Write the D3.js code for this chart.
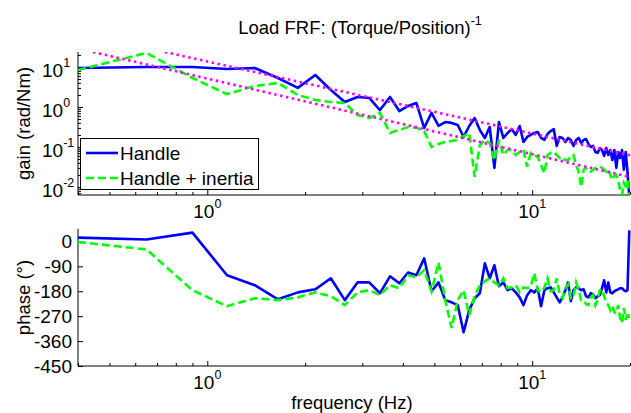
<!DOCTYPE html>
<html>
<head>
<meta charset="utf-8">
<script src="https://cdn.jsdelivr.net/npm/d3@7"></script>
<style>
body { margin: 0; background: #fff; }
text { font-family: "Liberation Sans", Arial, sans-serif; fill: #000; }
</style>
</head>
<body>
<svg id="chart" width="631" height="413"></svg>
<script>
// DATA ////////////////////////////////////////
var freq = [0.4, 0.65, 0.9, 1.15, 1.4, 1.65, 1.9, 2.15, 2.4, 2.65,
  2.9, 3.15, 3.4, 3.65, 3.9, 4.15, 4.4, 4.65, 4.9, 5.15,
  5.4, 5.65, 5.9, 6.15, 6.4, 6.65, 6.9, 7.15, 7.4, 7.65,
  7.9, 8.15, 8.4, 8.65, 8.9, 9.15, 9.4, 9.65, 9.9, 10.15,
  10.4, 10.65, 10.9, 11.15, 11.4, 11.65, 11.9, 12.15, 12.4, 12.65,
  12.9, 13.15, 13.4, 13.65, 13.9, 14.15, 14.4, 14.65, 14.9, 15.15,
  15.4, 15.65, 15.9, 16.15, 16.4, 16.65, 16.9, 17.15, 17.4, 17.65,
  17.9, 18.15, 18.4, 18.65, 18.9, 19.15, 19.4, 19.65, 19.9];

// gain (rad/Nm)
var gainHandle = [9.4, 10, 10, 8.9, 9.4, 5.3, 3.0, 6.3, 2.66, 1.33,
  1.78, 1.68, 0.84, 1.78, 0.79, 1.06, 1.26, 0.30, 0.71, 0.335,
  0.42, 0.40, 0.355, 0.178, 0.335, 0.53, 0.266, 0.168, 0.316, 0.030,
  0.42, 0.168, 0.224, 0.28, 0.20, 0.335, 0.133, 0.178, 0.20, 0.224,
  0.237, 0.168, 0.15, 0.211, 0.25, 0.28, 0.106, 0.178, 0.168, 0.133,
  0.168, 0.15, 0.106, 0.15, 0.168, 0.126, 0.15, 0.158, 0.119, 0.10,
  0.106, 0.075, 0.071, 0.094, 0.084, 0.060, 0.094, 0.063, 0.084, 0.047,
  0.084, 0.030, 0.075, 0.053, 0.084, 0.027, 0.075, 0.024, 0.0056];
var gainInertia = [8.4, 22.4, 5.3, 2.1, 3.35, 3.98, 2.0, 1.5, 1.33, 1.26,
  0.63, 0.53, 0.71, 0.224, 0.266, 0.316, 0.30, 0.25, 0.10, 0.119,
  0.133, 0.141, 0.15, 0.188, 0.224, 0.018, 0.112, 0.15, 0.126, 0.047,
  0.15, 0.063, 0.084, 0.084, 0.063, 0.075, 0.084, 0.032, 0.071, 0.063,
  0.056, 0.035, 0.022, 0.063, 0.071, 0.075, 0.063, 0.053, 0.056, 0.047,
  0.047, 0.060, 0.063, 0.035, 0.024, 0.010, 0.027, 0.030, 0.024, 0.024,
  0.027, 0.030, 0.032, 0.032, 0.030, 0.027, 0.024, 0.027, 0.020, 0.015,
  0.019, 0.020, 0.015, 0.0084, 0.0063, 0.0126, 0.0106, 0.015, 0.0047];

// phase (deg)
var phaseHandle = [14, 7, 32, -122, -158, -209, -184, -173, -133, -212,
  -148, -148, -187, -126, -151, -112, -122, -61, -180, -148,
  -212, -220, -230, -328, -248, -205, -187, -79, -133, -86,
  -162, -148, -176, -169, -184, -202, -230, -194, -176, -184,
  -169, -234, -176, -169, -166, -184, -202, -220, -202, -176,
  -148, -216, -176, -166, -169, -176, -173, -198, -202, -187,
  -191, -205, -198, -194, -169, -140, -184, -148, -184, -187,
  -180, -176, -173, -169, -169, -176, -180, -176, 40];
var phaseInertia = [-2, -29, -176, -234, -205, -212, -202, -184, -198, -230,
  -184, -176, -194, -158, -169, -122, -130, -104, -180, -76,
  -212, -313, -212, -176, -266, -198, -158, -144, -133, -148,
  -158, -133, -169, -166, -158, -184, -166, -169, -162, -115,
  -176, -184, -166, -133, -180, -176, -133, -191, -205, -169,
  -155, -205, -198, -148, -176, -212, -212, -227, -230, -202,
  -194, -230, -212, -176, -173, -198, -220, -230, -248, -234,
  -256, -259, -230, -277, -295, -241, -284, -256, -277];

// dotted reference slopes (end points)
var refUpperF = [0.74, 20];
var refUpperG = [23.7, 0.062];
var refLowerF = [0.445, 20];
var refLowerG = [23.7, 0.0178];

var phaseTicks = [0, -90, -180, -270, -360, -450];
var gainMajor = [0.01, 0.1, 1, 10];
var gainExp = ["-2", "-1", "0", "1"];
var freqMajor = [1, 10];
var freqExp = ["0", "1"];
var legendNames = ["Handle", "Handle + inertia"];

// LAYOUT //////////////////////////////////////
var left = 78, right = 630;
var gTop = 52, gBot = 195;
var pTop = 229, pBot = 366;
var fs = "19px"; // tick + legend font

var svg = d3.select("#chart");

var x = d3.scaleLog().domain([0.4, 20]).range([left, right]);
var yGain = d3.scaleLog().domain([0.0063, 23.7]).range([gBot, gTop]);
var yPhase = d3.scaleLinear().domain([-450, 45]).range([pBot, pTop]);

var defs = svg.append("defs");
defs.append("clipPath").attr("id", "clipG")
  .append("rect").attr("x", left).attr("y", gTop).attr("width", right - left + 2).attr("height", gBot - gTop);
defs.append("clipPath").attr("id", "clipP")
  .append("rect").attr("x", left).attr("y", pTop).attr("width", right - left + 2).attr("height", pBot - pTop);

var blue = "#0000ff", green = "#00ff00", magenta = "#ff00ff";

//AXES//////////////////////////////////////////
function xAxis(yPos) {
  var g = svg.append("g").attr("transform", "translate(0," + yPos + ")");
  g.call(d3.axisBottom(x).tickValues(x.ticks().filter(function (d) { return freqMajor.indexOf(d) < 0; }))
    .tickSizeInner(-3).tickSizeOuter(0).tickFormat(""));
  g.select(".domain").remove();
  var g2 = svg.append("g").attr("transform", "translate(0," + yPos + ")");
  g2.call(d3.axisBottom(x).tickValues(freqMajor).tickSizeInner(-5).tickSizeOuter(0).tickFormat(""));
  g2.select(".domain").remove();
  svg.append("line").attr("x1", left).attr("x2", right).attr("y1", yPos).attr("y2", yPos)
    .attr("stroke", "#000").attr("stroke-width", 1);
  freqMajor.forEach(function (d, i) {
    var t = svg.append("text").attr("x", x(d)).attr("y", yPos + 23)
      .attr("text-anchor", "middle").style("font-size", fs);
    t.append("tspan").text("10");
    t.append("tspan").attr("dy", -10).style("font-size", "12.5px").text(freqExp[i]);
  });
}
xAxis(gBot);
xAxis(pBot);

// gain y axis
var gy = svg.append("g").attr("transform", "translate(" + left + ",0)");
gy.call(d3.axisLeft(yGain).tickValues(yGain.ticks().filter(function (d) { return gainMajor.indexOf(d) < 0; }))
  .tickSizeInner(-3).tickSizeOuter(0).tickFormat(""));
gy.select(".domain").attr("d", "M0," + gTop + "V" + gBot);
var gy2 = svg.append("g").attr("transform", "translate(" + left + ",0)");
gy2.call(d3.axisLeft(yGain).tickValues(gainMajor).tickSizeInner(-5).tickSizeOuter(0).tickFormat(""));
gy2.select(".domain").remove();
gainMajor.forEach(function (d, i) {
  var t = svg.append("text").attr("x", 42).attr("y", yGain(d) + 10).style("font-size", fs);
  t.append("tspan").text("10");
  t.append("tspan").attr("dy", -10).style("font-size", "12.5px").text(gainExp[i]);
});

// phase y axis
var py = svg.append("g").attr("transform", "translate(" + left + ",0)");
py.call(d3.axisLeft(yPhase).tickValues(phaseTicks).tickSizeInner(-5).tickSizeOuter(0).tickFormat(""));
py.select(".domain").attr("d", "M0," + pTop + "V" + pBot);
phaseTicks.forEach(function (d) {
  svg.append("text").attr("x", 72).attr("y", yPhase(d) + 7)
    .attr("text-anchor", "end").style("font-size", fs).text(d);
});
svg.selectAll(".tick line").attr("stroke", "#000");
svg.selectAll(".domain").attr("stroke", "#000");

//LINES/////////////////////////////////////////
var gainLine = d3.line().x(function (d, i) { return x(freq[i]); }).y(function (d) { return yGain(d); });
var phaseLine = d3.line().x(function (d, i) { return x(freq[i]); }).y(function (d) { return yPhase(d); });

var gPlot = svg.append("g").attr("clip-path", "url(#clipG)");
gPlot.append("path").attr("d", gainLine(gainHandle)).attr("fill", "none")
  .attr("stroke", blue).attr("stroke-width", 2.6).attr("stroke-linejoin", "round");
gPlot.append("path").attr("d", gainLine(gainInertia)).attr("fill", "none")
  .attr("stroke", green).attr("stroke-width", 2.6).attr("stroke-dasharray", "8,4");

var refLine = d3.line().x(function (d) { return x(d[0]); }).y(function (d) { return yGain(d[1]); });
[[refUpperF, refUpperG], [refLowerF, refLowerG]].forEach(function (r) {
  gPlot.append("path").attr("d", refLine(d3.zip(r[0], r[1]))).attr("fill", "none")
    .attr("stroke", magenta).attr("stroke-width", 2.6).attr("stroke-dasharray", "2.5,3.5");
});

var pPlot = svg.append("g").attr("clip-path", "url(#clipP)");
pPlot.append("path").attr("d", phaseLine(phaseHandle)).attr("fill", "none")
  .attr("stroke", blue).attr("stroke-width", 2.6).attr("stroke-linejoin", "round");
pPlot.append("path").attr("d", phaseLine(phaseInertia)).attr("fill", "none")
  .attr("stroke", green).attr("stroke-width", 2.6).attr("stroke-dasharray", "8,4");

//LEGEND////////////////////////////////////////
var lg = svg.append("g");
lg.append("rect").attr("x", 80.5).attr("y", 138.5).attr("width", 178).attr("height", 51)
  .attr("fill", "#fff").attr("stroke", "#000").attr("stroke-width", 1);
[[blue, null], [green, "8,4"]].forEach(function (s, i) {
  var yy = 153 + i * 25;
  lg.append("line").attr("x1", 86).attr("x2", 118).attr("y1", yy).attr("y2", yy)
    .attr("stroke", s[0]).attr("stroke-width", 2.6).attr("stroke-dasharray", s[1]);
  lg.append("text").attr("x", 120).attr("y", yy + 7).style("font-size", fs).text(legendNames[i]);
});

//TITLES////////////////////////////////////////
var title = svg.append("text").attr("x", 360).attr("y", 34).attr("text-anchor", "middle").style("font-size", "18.5px");
title.append("tspan").text("Load FRF: (Torque/Position)");
title.append("tspan").attr("dy", -9).style("font-size", "12.5px").text("-1");

svg.append("text").attr("transform", "translate(30," + (gTop + gBot) / 2 + ") rotate(-90)")
  .attr("text-anchor", "middle").style("font-size", "18.5px").text("gain (rad/Nm)");
svg.append("text").attr("transform", "translate(30," + (pTop + pBot) / 2 + ") rotate(-90)")
  .attr("text-anchor", "middle").style("font-size", "18.5px").text("phase (\u00b0)");
svg.append("text").attr("x", 352).attr("y", 409).attr("text-anchor", "middle")
  .style("font-size", "18.5px").text("frequency (Hz)");
</script>
</body>
</html>
